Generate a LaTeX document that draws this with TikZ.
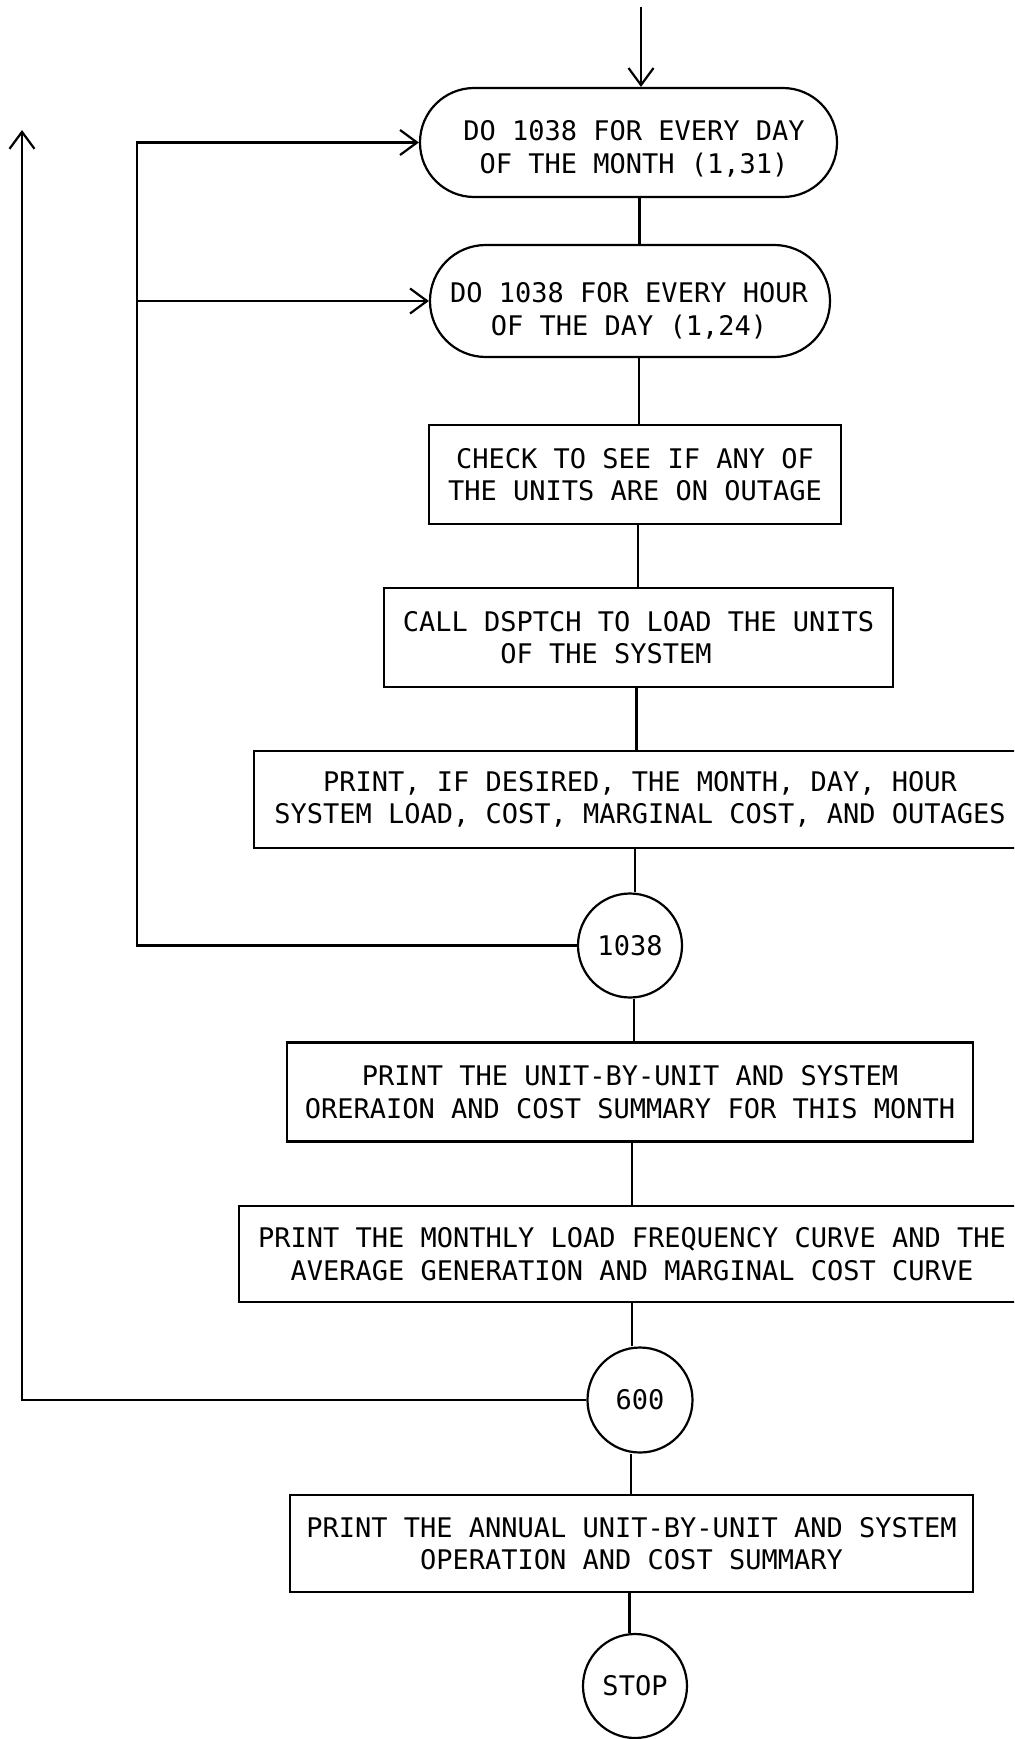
\documentclass[tikz,border=0pt]{standalone}
\usepackage{fontspec}
\newfontfamily\flowfont{DejaVu Sans Mono}
\usetikzlibrary{arrows.meta}
\begin{document}
\begin{tikzpicture}[x=0.5pt,y=-0.5pt,
  line width=1.1pt,
  every node/.style={font=\flowfont\fontsize{13.5}{16.25}\selectfont,
    align=center, inner sep=0pt},
  procbox/.style={draw, rectangle},
  loopbox/.style={draw, rectangle},
  looptext/.style={},
  connector/.style={draw, circle, minimum size=52.5pt},
  flow/.style={-{Straight Barb[length=8.5pt,width=12.5pt]}},
]
% page and clipping frame
\fill[white] (0,0) rectangle (1014,1739);
\clip (0,0) rectangle (1014,1739);

% loop headers (outline and text set separately)
\node[loopbox, minimum width=208.5pt, minimum height=54.5pt, rounded corners=27.1pt]
  (month) at (628.5,142.5) {};
\node[looptext] (monthtxt) at (634,149) {DO 1038 FOR EVERY DAY\\OF THE MONTH (1,31)};
\node[loopbox, minimum width=200pt, minimum height=56pt, rounded corners=27.9pt]
  (hour) at (630,301) {};
\node[looptext] (hourtxt) at (629,311) {DO 1038 FOR EVERY HOUR\\OF THE DAY (1,24)};

% hourly processing
\node[procbox, minimum width=206pt, minimum height=49.5pt]
  (check) at (635,474.5) {CHECK TO SEE IF ANY OF\\THE UNITS ARE ON OUTAGE};
\node[procbox, minimum width=254.5pt, minimum height=49.5pt, align=left]
  (call) at (638.5,637.5) {CALL DSPTCH TO LOAD THE UNITS\\\hphantom{CALL D}OF THE SYSTEM};
\node[procbox, minimum width=386pt, minimum height=48.5pt]
  (printif) at (640,799.5) {PRINT, IF DESIRED, THE MONTH, DAY, HOUR\\SYSTEM LOAD, COST, MARGINAL COST, AND OUTAGES};
\node[connector, minimum size=52pt] (c1038) at (630,945.5) {1038};

% monthly output
\node[procbox, minimum width=343pt, minimum height=49.5pt]
  (unit) at (630,1092) {PRINT THE UNIT-BY-UNIT AND SYSTEM\\ORERAION AND COST SUMMARY FOR THIS MONTH};
\node[procbox, minimum width=393pt, minimum height=48pt]
  (monthly) at (632,1254) {PRINT THE MONTHLY LOAD FREQUENCY CURVE AND THE\\AVERAGE GENERATION AND MARGINAL COST CURVE};
\node[connector] (c600) at (640,1400) {600};

% annual output
\node[procbox, minimum width=341.5pt, minimum height=48.5pt]
  (annual) at (631.5,1543.5) {PRINT THE ANNUAL UNIT-BY-UNIT AND SYSTEM\\OPERATION AND COST SUMMARY};
\node[connector, minimum size=52pt] (stop) at (635,1686) {STOP};

% main spine
\coordinate (entry) at (641,7);
\draw[flow] (entry) -- (entry |- month.north);
\draw ([xshift=5.5pt]month.south) -- ([xshift=5.5pt]month.south |- hour.north);
\draw ([xshift=4.5pt]hour.south) -- ([xshift=4.5pt]hour.south |- check.north);
\draw ([xshift=1.5pt]check.south) -- ([xshift=1.5pt]check.south |- call.north);
\draw ([xshift=-1pt]call.south) -- ([xshift=-1pt]call.south |- printif.north);
\draw ([xshift=-2.5pt]printif.south) -- ([xshift=-2.5pt]printif.south |- c1038.north);
\draw ([xshift=2pt]c1038.south) -- ([xshift=2pt]c1038.south |- unit.north);
\draw ([xshift=1pt]unit.south) -- ([xshift=1pt]unit.south |- monthly.north);
\draw ([xshift=-4pt]c600.north |- monthly.south) -- ([xshift=-4pt]c600.north);
\draw ([xshift=-4.5pt]c600.south) -- ([xshift=-4.5pt]c600.south |- annual.north);
\draw ([xshift=-1pt]annual.south) -- ([xshift=-1pt]annual.south |- stop.north);

% day and hour loop return
\coordinate (innerx) at (137,142.5);
\draw[flow] (c1038.west) -| (innerx) -- (month.west);
\draw[flow] (innerx |- hour.west) -- (hour.west);

% month loop return
\coordinate (outertop) at (22,130);
\draw[flow] (c600.west) -| (outertop);
\end{tikzpicture}
\end{document}
